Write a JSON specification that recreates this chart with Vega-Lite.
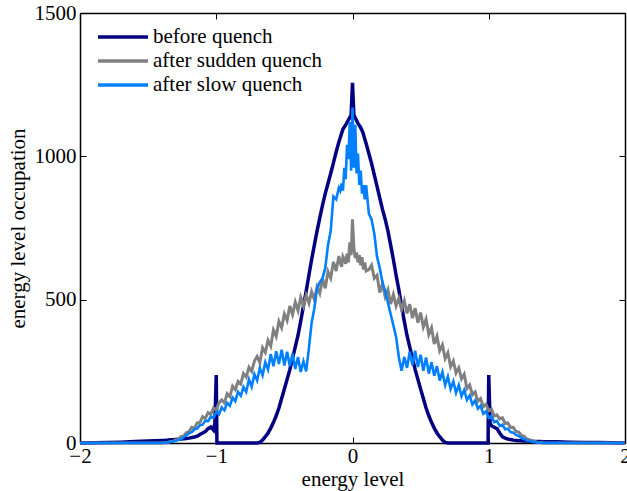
{
  "$schema": "https://vega.github.io/schema/vega-lite/v6.json",
  "width": 545,
  "height": 430,
  "autosize": {"type": "none"},
  "padding": {"left": 80, "top": 13, "right": 2, "bottom": 48},
  "background": "white",
  "config": {
    "view": {"stroke": null},
    "font": "Liberation Serif",
    "axis": {
      "labelFont": "Liberation Serif",
      "labelFontSize": 21,
      "labelColor": "black",
      "titleFont": "Liberation Serif",
      "titleFontSize": 21,
      "titleFontWeight": "normal",
      "titleColor": "black",
      "domainColor": "black",
      "domainWidth": 1.5,
      "tickColor": "black",
      "tickWidth": 1,
      "tickSize": -6,
      "grid": false
    },
    "legend": {"labelFont": "Liberation Serif"}
  },
  "data": {"values": [
    {"x":-2.0,"b":0,"g":0,"s":0},{"x":-1.9,"b":1,"g":0,"s":0},{"x":-1.8,"b":2,"g":0,"s":0},{"x":-1.7,"b":3,"g":0,"s":0},{"x":-1.6,"b":5,"g":0,"s":0},{"x":-1.5,"b":7,"g":0,"s":0},
    {"x":-1.40,"b":9,"g":0,"s":0},{"x":-1.38,"b":9,"g":2,"s":1},{"x":-1.36,"b":10,"g":1,"s":2},{"x":-1.34,"b":11,"g":5,"s":3},{"x":-1.32,"b":11,"g":5,"s":5},
    {"x":-1.30,"b":12,"g":11,"s":7},{"x":-1.28,"b":13,"g":12,"s":10},{"x":-1.26,"b":14,"g":22,"s":14},{"x":-1.24,"b":15,"g":24,"s":20},{"x":-1.22,"b":16,"g":36,"s":26},
    {"x":-1.20,"b":17,"g":40,"s":34},{"x":-1.18,"b":19,"g":55,"s":38},{"x":-1.16,"b":21,"g":52,"s":48},{"x":-1.14,"b":24,"g":70,"s":50},{"x":-1.12,"b":30,"g":72,"s":62},
    {"x":-1.10,"b":35,"g":92,"s":64},{"x":-1.08,"b":40,"g":86,"s":78},{"x":-1.06,"b":50,"g":106,"s":76},{"x":-1.04,"b":56,"g":100,"s":92},{"x":-1.02,"b":45,"g":122,"s":88},
    {"x":-1.01,"b":70},
    {"x":-1.00,"b":237,"g":115,"s":108},
    {"x":-0.995,"b":0},
    {"x":-0.98,"b":0,"g":140,"s":100},{"x":-0.96,"b":0,"g":150,"s":124},{"x":-0.94,"b":0,"g":140,"s":114},{"x":-0.92,"b":0,"g":172,"s":140},{"x":-0.90,"b":0,"g":162,"s":130},
    {"x":-0.88,"b":0,"g":198,"s":158},{"x":-0.86,"b":0,"g":186,"s":146},{"x":-0.84,"b":0,"g":215,"s":178},{"x":-0.82,"b":0,"g":206,"s":165},{"x":-0.80,"b":0,"g":242,"s":195},
    {"x":-0.78,"b":0,"g":230,"s":178},{"x":-0.76,"b":0,"g":264,"s":222},{"x":-0.74,"b":0,"g":250,"s":196},{"x":-0.72,"b":0,"g":286,"s":240},{"x":-0.70,"b":0,"g":302,"s":218},
    {"x":-0.68,"b":2,"g":280,"s":262},{"x":-0.66,"b":10,"g":332,"s":236},{"x":-0.64,"b":22,"g":316,"s":282},{"x":-0.62,"b":35,"g":358,"s":256},{"x":-0.60,"b":52,"g":338,"s":310},
    {"x":-0.58,"b":72,"g":394,"s":268},{"x":-0.56,"b":95,"g":372,"s":320},{"x":-0.54,"b":122,"g":424,"s":276},{"x":-0.52,"b":155,"g":402,"s":325},{"x":-0.50,"b":188,"g":450,"s":270},
    {"x":-0.48,"b":222,"g":428,"s":318},{"x":-0.46,"b":256,"g":478,"s":268},{"x":-0.44,"b":295,"g":448,"s":312},{"x":-0.42,"b":335,"g":492,"s":258},{"x":-0.40,"b":375,"g":462,"s":300},
    {"x":-0.38,"b":425,"g":508,"s":248},{"x":-0.36,"b":478,"g":478,"s":285},{"x":-0.34,"b":530,"g":515,"s":250},{"x":-0.32,"b":585,"g":488,"s":330},{"x":-0.30,"b":640,"g":528,"s":420},
    {"x":-0.28,"b":690,"g":500,"s":470},{"x":-0.26,"b":740,"g":545,"s":540},{"x":-0.24,"b":785,"g":522,"s":560},{"x":-0.22,"b":830,"g":572,"s":575},{"x":-0.20,"b":870,"g":540,"s":610},
    {"x":-0.18,"b":905,"g":598,"s":690},{"x":-0.16,"b":940,"g":575,"s":740},{"x":-0.14,"b":977,"g":632,"s":860},{"x":-0.12,"b":1015,"g":600,"s":850},{"x":-0.10,"b":1050,"g":652,"s":890},
    {"x":-0.09,"b":1065,"g":630,"s":880},{"x":-0.08,"b":1080,"g":615,"s":905},{"x":-0.07,"b":1095,"g":650,"s":880},{"x":-0.06,"b":1102,"g":640,"s":960},{"x":-0.05,"b":1110,"g":625,"s":920},
    {"x":-0.04,"b":1118,"g":660,"s":1040},{"x":-0.03,"b":1127,"g":630,"s":990},{"x":-0.02,"b":1135,"g":700,"s":1120},{"x":-0.01,"b":1145,"g":655,"s":950},
    {"x":0.00,"b":1256,"g":780,"s":1170},
    {"x":0.01,"b":1145,"g":680,"s":960},{"x":0.02,"b":1135,"g":645,"s":1110},{"x":0.03,"b":1125,"g":665,"s":940},{"x":0.04,"b":1115,"g":630,"s":1010},{"x":0.05,"b":1108,"g":655,"s":900},
    {"x":0.06,"b":1100,"g":620,"s":950},{"x":0.07,"b":1090,"g":648,"s":870},{"x":0.08,"b":1078,"g":605,"s":900},{"x":0.09,"b":1060,"g":630,"s":850},{"x":0.10,"b":1045,"g":600,"s":900},
    {"x":0.12,"b":1010,"g":605,"s":800},{"x":0.14,"b":975,"g":620,"s":780},{"x":0.16,"b":935,"g":575,"s":730},{"x":0.18,"b":895,"g":585,"s":650},{"x":0.20,"b":855,"g":525,"s":610},
    {"x":0.22,"b":815,"g":555,"s":560},{"x":0.24,"b":780,"g":510,"s":530},{"x":0.26,"b":740,"g":535,"s":490},{"x":0.28,"b":690,"g":485,"s":450},{"x":0.30,"b":640,"g":518,"s":410},
    {"x":0.32,"b":585,"g":478,"s":370},{"x":0.34,"b":535,"g":505,"s":300},{"x":0.36,"b":478,"g":466,"s":252},{"x":0.38,"b":425,"g":496,"s":300},{"x":0.40,"b":375,"g":452,"s":262},
    {"x":0.42,"b":335,"g":484,"s":318},{"x":0.44,"b":295,"g":436,"s":272},{"x":0.46,"b":256,"g":470,"s":322},{"x":0.48,"b":222,"g":420,"s":265},{"x":0.50,"b":188,"g":455,"s":308},
    {"x":0.52,"b":155,"g":405,"s":252},{"x":0.54,"b":122,"g":432,"s":298},{"x":0.56,"b":95,"g":378,"s":242},{"x":0.58,"b":72,"g":402,"s":282},{"x":0.60,"b":52,"g":345,"s":235},
    {"x":0.62,"b":35,"g":372,"s":268},{"x":0.64,"b":22,"g":322,"s":218},{"x":0.66,"b":10,"g":342,"s":248},{"x":0.68,"b":2,"g":295,"s":202},{"x":0.70,"b":0,"g":315,"s":232},
    {"x":0.72,"b":0,"g":266,"s":188},{"x":0.74,"b":0,"g":286,"s":215},{"x":0.76,"b":0,"g":244,"s":175},{"x":0.78,"b":0,"g":262,"s":202},{"x":0.80,"b":0,"g":224,"s":163},
    {"x":0.82,"b":0,"g":240,"s":185},{"x":0.84,"b":0,"g":190,"s":150},{"x":0.86,"b":0,"g":202,"s":166},{"x":0.88,"b":0,"g":168,"s":134},{"x":0.90,"b":0,"g":178,"s":148},
    {"x":0.92,"b":0,"g":145,"s":120},{"x":0.94,"b":0,"g":155,"s":130},{"x":0.96,"b":0,"g":127,"s":102},{"x":0.98,"b":0,"g":135,"s":110},
    {"x":0.995,"b":0},
    {"x":1.00,"b":237,"g":112,"s":88},
    {"x":1.01,"b":70},
    {"x":1.02,"b":60,"g":118,"s":94},{"x":1.04,"b":55,"g":94,"s":73},{"x":1.06,"b":50,"g":98,"s":77},{"x":1.08,"b":35,"g":84,"s":60},{"x":1.10,"b":22,"g":88,"s":64},
    {"x":1.12,"b":17,"g":68,"s":48},{"x":1.14,"b":14,"g":70,"s":50},{"x":1.16,"b":12,"g":54,"s":38},{"x":1.18,"b":10,"g":55,"s":36},{"x":1.20,"b":9,"g":40,"s":28},
    {"x":1.22,"b":8,"g":38,"s":24},{"x":1.24,"b":8,"g":26,"s":18},{"x":1.26,"b":7,"g":23,"s":14},{"x":1.28,"b":7,"g":14,"s":9},{"x":1.30,"b":6,"g":12,"s":7},
    {"x":1.32,"b":6,"g":6,"s":4},{"x":1.34,"b":5,"g":5,"s":3},{"x":1.36,"b":5,"g":2,"s":2},{"x":1.38,"b":5,"g":2,"s":1},{"x":1.40,"b":4,"g":0,"s":0},
    {"x":1.5,"b":4,"g":0,"s":0},{"x":1.6,"b":3,"g":0,"s":0},{"x":1.7,"b":2,"g":0,"s":0},{"x":1.8,"b":2,"g":0,"s":0},{"x":1.9,"b":1,"g":0,"s":0},{"x":2.0,"b":0,"g":0,"s":0}
  ]},
  "transform": [
    {"fold": ["b", "g", "s"], "as": ["k", "v"]},
    {"filter": "isValid(datum.v)"}
  ],
  "layer": [
    {
      "encoding": {
        "x": {"field": "x", "type": "quantitative", "scale": {"domain": [-2, 2], "nice": false},
              "axis": {"values": [-2, -1, 0, 1, 2], "format": "d", "title": "energy level", "labelFlush": false, "labelPadding": 8, "titlePadding": 2}},
        "y": {"field": "v", "type": "quantitative", "scale": {"domain": [0, 1500], "nice": false},
              "axis": {"values": [0, 500, 1000, 1500], "format": "d", "title": "energy level occupation", "labelPadding": 10, "titlePadding": 6}},
        "color": {"field": "k", "type": "nominal",
                  "scale": {"domain": ["b", "g", "s"], "range": ["#000080", "#808080", "#0080ff"]},
                  "legend": {"title": null, "orient": "none", "legendX": 16, "legendY": 12,
                             "symbolType": "M-2.5,0H2.5", "symbolSize": 400, "symbolStrokeWidth": 3.5,
                             "labelFont": "Liberation Serif", "labelFontSize": 21, "labelColor": "black",
                             "labelLimit": 400, "labelOffset": 18, "rowPadding": 2, "symbolOffset": 15,
                             "labelExpr": "datum.label == 'b' ? 'before quench' : datum.label == 'g' ? 'after sudden quench' : 'after slow quench'"}}
      },
      "layer": [
        {"transform": [{"filter": "datum.k == 'b'"}], "mark": {"type": "line", "strokeWidth": 3.5}},
        {"transform": [{"filter": "datum.k == 'g'"}], "mark": {"type": "line", "strokeWidth": 3}},
        {"transform": [{"filter": "datum.k == 's'"}], "mark": {"type": "line", "strokeWidth": 2.6}}
      ]
    },
    {
      "mark": {"type": "point", "opacity": 0},
      "encoding": {
        "x": {"field": "x", "type": "quantitative", "scale": {"domain": [-2, 2], "nice": false},
              "axis": {"orient": "top", "values": [-2, -1, 0, 1, 2], "labels": false, "title": null}},
        "y": {"field": "v", "type": "quantitative", "scale": {"domain": [0, 1500], "nice": false},
              "axis": {"orient": "right", "values": [0, 500, 1000, 1500], "labels": false, "title": null}}
      }
    }
  ],
  "resolve": {"axis": {"x": "independent", "y": "independent"}}
}
